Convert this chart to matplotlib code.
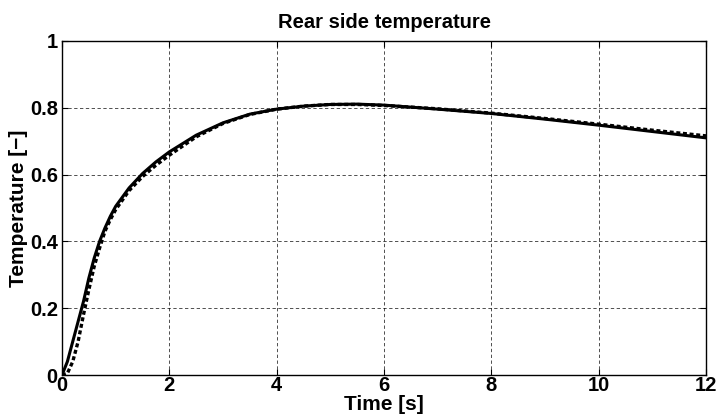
import matplotlib
matplotlib.use("Agg")
import matplotlib.pyplot as plt

# measured rear side temperature (solid)
t_meas = [0, 0.1, 0.2, 0.3, 0.4, 0.5, 0.6, 0.7, 0.8, 0.9, 1.0, 1.25, 1.5, 1.75, 2.0,
          2.5, 3.0, 3.5, 4.0, 4.5, 5.0, 5.5, 6.0, 7.0, 8.0, 9.0, 10.0, 11.0, 12.0]
T_meas = [0, 0.04, 0.10, 0.16, 0.22, 0.29, 0.35, 0.40, 0.44, 0.475, 0.505, 0.56, 0.603,
          0.638, 0.668, 0.718, 0.755, 0.781, 0.796, 0.805, 0.81, 0.811, 0.808, 0.796,
          0.783, 0.766, 0.748, 0.729, 0.71]

# model prediction (dashed)
t_model = [0, 0.1, 0.2, 0.3, 0.4, 0.5, 0.6, 0.7, 0.8, 0.9, 1.0, 1.25, 1.5, 1.75, 2.0,
           2.5, 3.0, 3.5, 4.0, 4.5, 5.0, 5.5, 6.0, 7.0, 8.0, 9.0, 10.0, 11.0, 12.0]
T_model = [0, 0.005, 0.04, 0.10, 0.18, 0.255, 0.325, 0.38, 0.43, 0.465, 0.495, 0.552,
           0.594, 0.628, 0.658, 0.713, 0.753, 0.78, 0.796, 0.805, 0.81, 0.81, 0.807,
           0.797, 0.784, 0.768, 0.751, 0.733, 0.716]

x_ticks = [0, 2, 4, 6, 8, 10, 12]
y_ticks = [0, 0.2, 0.4, 0.6, 0.8, 1]
y_tick_labels = ["0", "0.2", "0.4", "0.6", "0.8", "1"]

plt.rcParams["font.family"] = ["Liberation Sans", "DejaVu Sans"]
plt.rcParams["font.weight"] = "bold"

fig = plt.figure(figsize=(7.2, 4.19), dpi=100)
ax = fig.add_axes([62 / 720, 44 / 419, 644 / 720, 334 / 419])

ax.plot(t_meas, T_meas, "-", color="black", linewidth=2.2)
ax.plot(t_model, T_model, linestyle=(0, (1.2, 0.8)), color="black", linewidth=2.4)

ax.set_xlim(0, 12)
ax.set_ylim(0, 1)
ax.set_xticks(x_ticks)
ax.set_yticks(y_ticks)
ax.set_yticklabels(y_tick_labels)
ax.tick_params(direction="in", top=True, right=True, length=4, width=0.8,
               labelsize=14.5, pad=1)
ax.tick_params(axis="y", pad=3)
for lbl in ax.get_xticklabels() + ax.get_yticklabels():
    lbl.set_fontweight("bold")

ax.grid(True, color="black", linestyle=(0, (4, 3)), linewidth=0.6, alpha=0.8)
for sp in ax.spines.values():
    sp.set_linewidth(1.0)

ax.set_title("Rear side temperature", fontsize=14.5, fontweight="bold", pad=9)
ax.set_xlabel("Time [s]", fontsize=15, fontweight="bold", labelpad=0)
ax.set_ylabel("Temperature [\u2212]", fontsize=15, fontweight="bold", labelpad=1)

fig.savefig("out.png", dpi=100)
